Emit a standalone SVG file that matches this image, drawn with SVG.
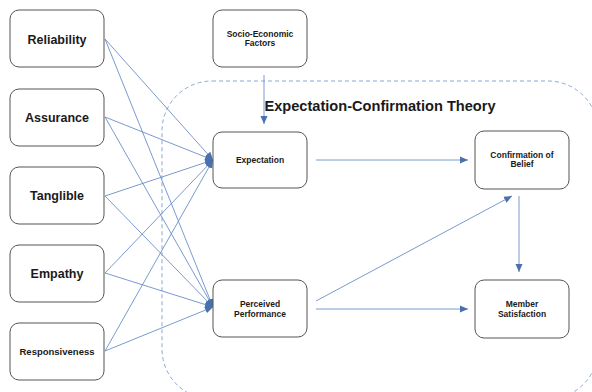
<svg xmlns="http://www.w3.org/2000/svg" width="592" height="392" viewBox="0 0 592 392">
<style>
.box{fill:#fff;stroke:#555;stroke-width:1}
.lbl{font-family:"Liberation Sans",Arial,sans-serif;font-weight:bold;fill:#1a1a1a;text-anchor:middle}
.big{font-size:12.5px}
.sm{font-size:8.5px}
.cn{fill:none;stroke:#6a8fc8;stroke-width:0.9}
.dash{fill:none;stroke:#8aa8d4;stroke-width:1;stroke-dasharray:4 3}
</style>
<defs>
<marker id="ah" markerUnits="userSpaceOnUse" markerWidth="9" markerHeight="8" refX="8" refY="4" orient="auto">
<path d="M0,0.5 L8,4 L0,7.5 z" fill="#4a70ad"/>
</marker>
</defs>
<rect width="592" height="392" fill="#fff"/>
<g id="ect-boundary">
<rect class="dash" x="162" y="81" width="436" height="318" rx="50"/>
<text class="lbl" x="380" y="111" style="font-size:14.6px">Expectation-Confirmation Theory</text>
</g>
<g id="connectors">
<line class="cn" x1="105" y1="39" x2="213" y2="160" marker-end="url(#ah)"/>
<line class="cn" x1="105" y1="39" x2="213" y2="307" marker-end="url(#ah)"/>
<line class="cn" x1="105" y1="117" x2="213" y2="160" marker-end="url(#ah)"/>
<line class="cn" x1="105" y1="117" x2="213" y2="307" marker-end="url(#ah)"/>
<line class="cn" x1="105" y1="196" x2="213" y2="160" marker-end="url(#ah)"/>
<line class="cn" x1="105" y1="196" x2="213" y2="307" marker-end="url(#ah)"/>
<line class="cn" x1="105" y1="273" x2="213" y2="160" marker-end="url(#ah)"/>
<line class="cn" x1="105" y1="273" x2="213" y2="307" marker-end="url(#ah)"/>
<line class="cn" x1="105" y1="351" x2="213" y2="160" marker-end="url(#ah)"/>
<line class="cn" x1="105" y1="351" x2="213" y2="307" marker-end="url(#ah)"/>
<line class="cn" x1="264" y1="75" x2="264" y2="124" marker-end="url(#ah)"/>
<line class="cn" x1="316" y1="160" x2="468" y2="160" marker-end="url(#ah)"/>
<line class="cn" x1="316" y1="301" x2="512" y2="196" marker-end="url(#ah)"/>
<line class="cn" x1="316" y1="309" x2="468" y2="309" marker-end="url(#ah)"/>
<line class="cn" x1="519" y1="196" x2="519" y2="272" marker-end="url(#ah)"/>
</g>
<g id="reliability"><rect class="box" x="10" y="10" width="94" height="57" rx="9"/><text class="lbl big" x="57" y="44">Reliability</text></g>
<g id="assurance"><rect class="box" x="10" y="89" width="94" height="57" rx="9"/><text class="lbl big" x="57" y="122">Assurance</text></g>
<g id="tanglible"><rect class="box" x="10" y="167" width="94" height="57" rx="9"/><text class="lbl big" x="57" y="200">Tanglible</text></g>
<g id="empathy"><rect class="box" x="10" y="245" width="94" height="57" rx="9"/><text class="lbl big" x="57" y="278">Empathy</text></g>
<g id="responsiveness"><rect class="box" x="10" y="323" width="94" height="57" rx="9"/><text class="lbl" x="57" y="355" style="font-size:9.5px">Responsiveness</text></g>
<g id="socio-economic"><rect class="box" x="213" y="10" width="94" height="57" rx="9"/><text class="lbl sm" x="260" y="37">Socio-Economic</text><text class="lbl sm" x="260" y="46">Factors</text></g>
<g id="expectation"><rect class="box" x="213" y="132" width="94" height="56" rx="9"/><text class="lbl sm" x="260" y="163">Expectation</text></g>
<g id="perceived-performance"><rect class="box" x="213" y="280" width="94" height="57" rx="9"/><text class="lbl sm" x="260" y="307">Perceived</text><text class="lbl sm" x="260" y="317">Performance</text></g>
<g id="confirmation-of-belief"><rect class="box" x="475" y="131" width="94" height="58" rx="9"/><text class="lbl sm" x="522" y="158">Confirmation of</text><text class="lbl sm" x="522" y="167">Belief</text></g>
<g id="member-satisfaction"><rect class="box" x="475" y="280" width="94" height="58" rx="9"/><text class="lbl sm" x="522" y="307">Member</text><text class="lbl sm" x="522" y="317">Satisfaction</text></g>
</svg>
